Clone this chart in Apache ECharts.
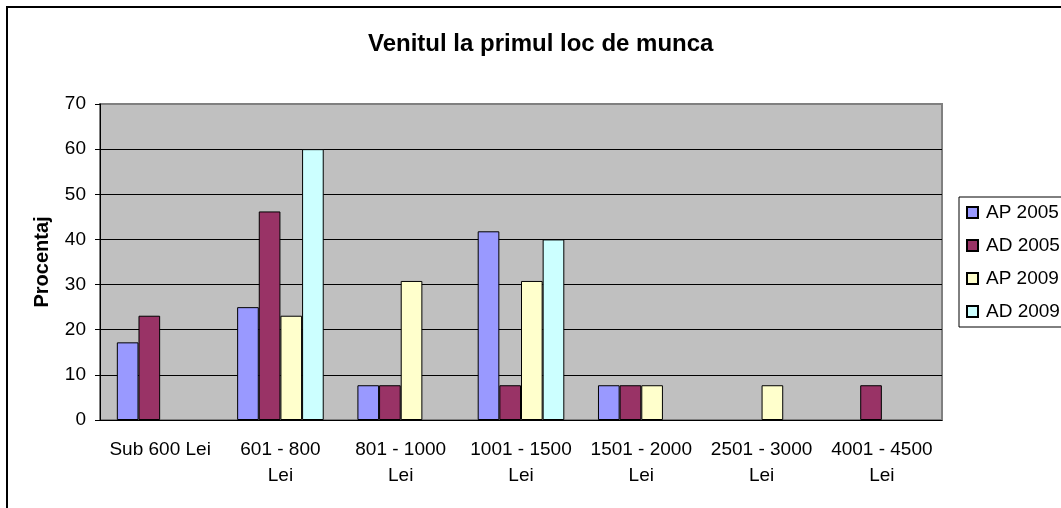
<!DOCTYPE html>
<html>
<head>
<meta charset="utf-8">
<script src="https://cdn.jsdelivr.net/npm/echarts@6/dist/echarts.min.js"></script>
<style>
  html, body { margin: 0; padding: 0; background: #fff; }
  #chart { width: 1061px; height: 508px; }
</style>
</head>
<body>
<div id="chart"></div>
<script>
const categories = ['Sub 600 Lei', '601 - 800 Lei', '801 - 1000 Lei', '1001 - 1500 Lei', '1501 - 2000 Lei', '2501 - 3000 Lei', '4001 - 4500 Lei'];
const ap2005 = [17.2, 25, 7.7, 41.8, 7.7, null, null];
const ad2005 = [23.1, 46.2, 7.7, 7.7, 7.7, null, 7.7];
const ap2009 = [null, 23.1, 30.8, 30.8, 7.7, 7.7, null];
const ad2009 = [null, 60, null, 40, null, null, null];
const yTicks = { min: 0, max: 70, interval: 10 };

const font = 'Liberation Sans, Arial, sans-serif';
const chart = echarts.init(document.getElementById('chart'));

function bar(name, data, color) {
  return {
    name: name,
    type: 'bar',
    data: data,
    barGap: '0%',
    barCategoryGap: '28%',
    itemStyle: { color: color, borderColor: '#000', borderWidth: 1 }
  };
}

chart.setOption({
  animation: false,
  backgroundColor: '#fff',
  textStyle: { fontFamily: font, color: '#000' },
  title: {
    text: 'Venitul la primul loc de munca',
    left: 363,
    top: 27,
    textStyle: { fontFamily: font, fontSize: 24, fontWeight: 'bold', color: '#000' }
  },
  graphic: [{
    type: 'rect',
    shape: { x: 7, y: 7, width: 1200, height: 700 },
    style: { fill: 'none', stroke: '#000', lineWidth: 2 },
    silent: true
  }],
  legend: {
    orient: 'vertical',
    left: 959,
    top: 197,
    padding: [6, 40, 6, 7],
    itemGap: 14,
    itemWidth: 11,
    itemHeight: 11,
    icon: 'rect',
    borderColor: '#000',
    borderWidth: 1,
    textStyle: { fontFamily: font, fontSize: 19, color: '#000', padding: [0, 0, 0, 3] }
  },
  grid: {
    left: 100,
    top: 104,
    right: 119,
    bottom: 88,
    show: true,
    backgroundColor: '#C0C0C0',
    borderColor: '#808080',
    borderWidth: 2
  },
  xAxis: {
    type: 'category',
    data: categories,
    axisLine: { lineStyle: { color: '#000', width: 1 } },
    axisTick: { length: 5, lineStyle: { color: '#000' } },
    axisLabel: {
      interval: 0,
      margin: 17,
      fontSize: 19,
      lineHeight: 26,
      color: '#000',
      formatter: function (v) { return v.indexOf(' - ') > 0 ? v.replace(' Lei', '\nLei') : v; }
    }
  },
  yAxis: {
    type: 'value',
    min: yTicks.min,
    max: yTicks.max,
    interval: yTicks.interval,
    name: 'Procentaj',
    nameLocation: 'middle',
    nameGap: 48,
    nameTextStyle: { fontFamily: font, fontSize: 20, fontWeight: 'bold', color: '#000' },
    axisLine: { show: true, lineStyle: { color: '#000', width: 1 } },
    axisTick: { show: true, length: 5, lineStyle: { color: '#000' } },
    axisLabel: { margin: 14, fontSize: 19, color: '#000' },
    splitLine: { show: true, showMaxLine: false, lineStyle: { color: '#000', width: 1 } }
  },
  series: [
    bar('AP 2005', ap2005, '#9999FF'),
    bar('AD 2005', ad2005, '#993366'),
    bar('AP 2009', ap2009, '#FFFFCC'),
    bar('AD 2009', ad2009, '#CCFFFF')
  ]
});
</script>
</body>
</html>
